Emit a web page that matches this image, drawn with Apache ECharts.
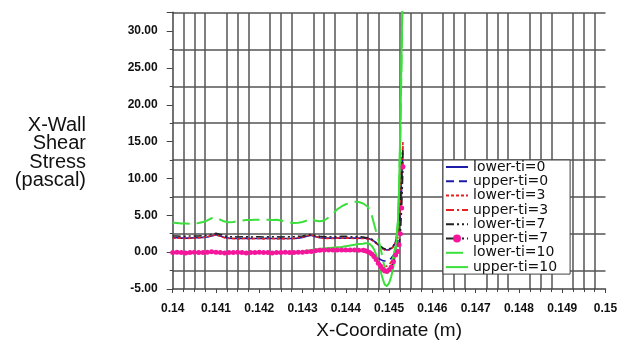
<!DOCTYPE html>
<html>
<head>
<meta charset="utf-8">
<script src="https://cdn.jsdelivr.net/npm/echarts@6/dist/echarts.min.js"></script>
<style>html,body{margin:0;padding:0;background:#fff}#c{width:632px;height:345px}</style>
</head>
<body>
<div id="c"></div>
<script>
// X-coordinate sample positions (m)
var xCoord = [
  0.1400,0.1401,0.1402,0.1403,0.1404,0.1405,0.1406,0.1407,0.1408,0.1409,
  0.1410,0.1411,0.1412,0.1413,0.1414,0.1415,0.1416,0.1417,0.1418,0.1419,
  0.1420,0.1421,0.1422,0.1423,0.1424,0.1425,0.1426,0.1427,0.1428,0.1429,
  0.1430,0.1431,0.1432,0.1433,0.1434,0.1435,0.1436,0.1437,0.1438,0.1439,
  0.1440,0.1441,0.1442,0.1443,0.1444,
  0.14445,0.1445,0.14455,0.1446,0.14465,0.1447,0.14475,0.1448,0.14485,0.1449,
  0.14495,0.1450,0.14505,0.1451,0.14515,0.1452,0.14523,0.14526,0.14529,0.14532
];
var seriesNames = ['lower-ti=0','upper-ti=0','lower-ti=3','upper-ti=3','lower-ti=7','upper-ti=7','lower-ti=10','upper-ti=10'];

var lowerTi0 = [
  1.95,1.95,1.9,1.9,1.9,1.95,1.95,2.0,2.05,2.2,
  2.35,2.2,2.0,1.9,1.85,1.85,1.85,1.9,1.85,1.85,
  1.85,1.85,1.9,1.85,1.85,1.85,1.85,1.85,1.85,1.9,
  2.0,2.15,2.3,2.1,1.95,1.9,1.9,1.9,1.9,1.9,
  1.9,1.9,1.9,1.9,1.9,
  1.9,1.85,1.8,1.7,1.5,1.25,1.0,0.75,0.5,0.35,
  0.3,0.35,0.5,0.8,1.4,2.5,4.0,6.5,10.0,13.5
];
var upperTi0 = [
  -0.05,-0.05,-0.05,-0.05,-0.05,-0.05,-0.05,-0.05,0.0,0.0,
  0.0,-0.05,-0.05,-0.05,-0.05,-0.05,-0.05,-0.05,-0.05,-0.05,
  -0.05,-0.05,-0.05,-0.05,-0.05,-0.05,-0.05,-0.05,-0.05,-0.05,
  0.0,0.1,0.2,0.2,0.25,0.25,0.25,0.25,0.25,0.2,
  0.2,0.2,0.15,0.15,0.15,
  0.15,0.1,0.0,-0.1,-0.3,-0.55,-0.8,-1.0,-1.15,-1.2,
  -1.2,-1.05,-0.8,-0.4,0.3,1.5,3.0,5.0,8.5,12.5
];
var lowerTi3 = [
  1.9,1.9,1.9,1.85,1.9,1.9,1.95,2.0,2.1,2.25,
  2.3,2.15,1.95,1.85,1.85,1.8,1.85,1.85,1.8,1.85,
  1.85,1.8,1.85,1.85,1.8,1.85,1.8,1.85,1.85,1.95,
  2.05,2.2,2.35,2.15,1.95,1.85,1.85,1.85,1.9,1.9,
  1.9,1.9,1.85,1.85,1.85,
  1.85,1.8,1.75,1.65,1.45,1.2,0.95,0.7,0.45,0.3,
  0.25,0.3,0.45,0.75,1.3,2.6,4.5,7.5,11.5,15.0
];
var upperTi3 = [
  -0.05,-0.05,-0.1,-0.05,-0.05,-0.05,-0.05,0.0,0.0,0.05,
  0.0,-0.05,-0.05,-0.1,-0.05,-0.05,-0.05,-0.05,-0.1,-0.05,
  -0.05,-0.05,-0.05,-0.05,-0.1,-0.05,-0.05,-0.05,-0.05,0.0,
  0.05,0.1,0.2,0.2,0.25,0.25,0.25,0.25,0.25,0.25,
  0.2,0.2,0.2,0.15,0.15,
  0.15,0.05,-0.1,-0.3,-0.6,-0.95,-1.3,-1.6,-1.85,-1.95,
  -1.9,-1.7,-1.3,-0.7,0.2,1.8,3.8,6.5,10.5,14.5
];
var lowerTi7 = [
  2.2,2.2,2.15,2.15,2.2,2.2,2.2,2.25,2.3,2.4,
  2.55,2.4,2.2,2.1,2.1,2.05,2.1,2.1,2.05,2.1,
  2.1,2.05,2.1,2.1,2.1,2.05,2.1,2.1,2.1,2.15,
  2.2,2.3,2.4,2.25,2.15,2.1,2.1,2.1,2.1,2.15,
  2.15,2.1,2.1,2.1,2.05,
  2.0,1.95,1.85,1.75,1.55,1.3,1.05,0.8,0.6,0.45,
  0.4,0.45,0.6,0.9,1.5,2.7,4.3,7.0,10.5,14.0
];
var upperTi7 = [
  -0.05,0.0,-0.05,-0.1,-0.05,0.0,-0.05,-0.05,0.0,0.05,
  0.0,-0.05,-0.1,-0.05,-0.05,0.0,-0.05,-0.1,-0.05,-0.05,
  0.0,-0.05,-0.05,-0.1,-0.05,-0.05,0.0,-0.05,-0.05,0.0,
  0.0,0.05,0.1,0.2,0.25,0.3,0.3,0.3,0.3,0.3,
  0.3,0.3,0.3,0.25,0.25,
  0.2,0.1,-0.05,-0.25,-0.6,-1.0,-1.5,-1.9,-2.3,-2.55,
  -2.6,-2.4,-2.0,-1.3,-0.4,0.1,1.0,2.5,6.0,11.6
];
var lowerTi10 = [
  4.0,3.95,3.9,3.9,3.85,3.9,3.95,4.1,4.3,4.6,
  4.7,4.4,4.15,4.05,4.1,4.2,4.3,4.35,4.35,4.4,
  4.4,4.4,4.4,4.35,4.4,4.3,4.2,4.05,3.95,4.0,
  4.1,4.3,4.6,4.25,4.2,4.3,4.7,5.2,5.8,6.2,
  6.5,6.7,6.85,6.8,6.6,
  6.4,6.2,5.8,5.0,3.9,2.8,1.8,0.6,-0.8,-2.2,
  -2.9,-2.6,-1.8,-0.6,1.0,4.0,8.5,16.0,27.0,38.0
];
var upperTi10 = [
  -0.05,-0.05,-0.1,-0.05,-0.05,-0.1,-0.05,-0.05,-0.05,0.0,
  0.0,-0.05,-0.05,-0.1,-0.05,-0.05,-0.05,-0.1,-0.05,-0.05,
  -0.05,-0.05,-0.05,-0.1,-0.05,-0.05,-0.05,-0.05,-0.05,0.0,
  0.05,0.15,0.3,0.4,0.45,0.5,0.55,0.6,0.65,0.7,
  0.8,0.9,1.0,1.1,1.15,
  1.2,1.2,1.1,0.85,0.4,-0.3,-1.3,-2.5,-3.6,-4.4,
  -4.6,-4.2,-3.3,-2.0,0.0,3.5,8.5,17.0,28.0,39.0
];
var seriesValues = [lowerTi0, upperTi0, lowerTi3, upperTi3, lowerTi7, upperTi7, lowerTi10, upperTi10];

var styles = [
  {color:'#1c1ca8', type:'solid', width:1.6},
  {color:'#1c1ca8', type:[8,5], width:1.6},
  {color:'#e82020', type:[3,2], width:1.6},
  {color:'#e82020', type:[8,3,2,3], width:1.6},
  {color:'#222222', type:[8,3,2,3,2,3], width:1.6},
  {color:'#222222', type:[8,3,2,3,2,3], width:1.6},
  {color:'#3ce03c', type:[17,7], width:2},
  {color:'#3ce03c', type:'solid', width:2}
];

function pairs(v){ var d=[]; for (var i=0;i<xCoord.length;i++) d.push([xCoord[i], v[i]]); return d; }

var series = seriesNames.map(function(n, k){
  var s = {
    name: n, type: 'line', data: pairs(seriesValues[k]),
    symbol: 'none', showSymbol: false,
    lineStyle: {color: styles[k].color, type: styles[k].type, width: styles[k].width},
    itemStyle: {color: styles[k].color},
    z: 2 + k, clip: true
  };
  if (n === 'upper-ti=7') {
    s.symbol = 'circle'; s.showSymbol = true; s.symbolSize = 5;
    s.itemStyle = {color: '#f5169c'};
    s.z = 20;
  }
  return s;
});

var legendData = seriesNames.map(function(n){
  if (n === 'upper-ti=7') return {name: n, itemStyle: {opacity: 1, color: '#f5169c'}};
  return {name: n, itemStyle: {opacity: 0}};
});

var chart = echarts.init(document.getElementById('c'), null, {renderer:'canvas'});
var gridColor = '#555';
chart.setOption({
  animation: false,
  backgroundColor: '#ffffff',
  grid: {left: 172.7, right: 26.5, top: 12.3, bottom: 55.5, containLabel: false},
  xAxis: {
    type: 'value', min: 0.14, max: 0.15, interval: 0.001,
    name: 'X-Coordinate (m)', nameLocation: 'middle', nameGap: 32,
    nameTextStyle: {fontFamily: 'Liberation Sans', fontSize: 19, color: '#111'},
    axisLine: {show: true, onZero: false, lineStyle: {color: '#444', width: 1.5}},
    axisTick: {show: true, length: 4, lineStyle: {color: '#444'}},
    minorTick: {show: true, splitNumber: 4, length: 3, lineStyle: {color: '#444'}},
    splitLine: {show: false},
    minorSplitLine: {show: true, lineStyle: {color: gridColor, width: 1.5}},
    axisLabel: {fontFamily: 'Liberation Sans', fontWeight: 'bold', fontSize: 12, color: '#111', margin: 14,
      formatter: function(v){ return String(+v.toFixed(3)); }}
  },
  yAxis: {
    type: 'value', min: -5, max: 32.55, interval: 5,
    axisLine: {show: true, onZero: false, lineStyle: {color: '#444', width: 1.5}},
    axisTick: {show: true, length: 6, lineStyle: {color: '#444'}},
    minorTick: {show: true, splitNumber: 2, length: 3, lineStyle: {color: '#444'}},
    splitLine: {show: false},
    minorSplitLine: {show: true, lineStyle: {color: gridColor, width: 1.5}},
    axisLabel: {fontFamily: 'Liberation Sans', fontWeight: 'bold', fontSize: 12, color: '#111', margin: 15,
      showMaxLabel: false,
      formatter: function(v){ return v.toFixed(2); }}
  },
  legend: {
    data: legendData, orient: 'vertical', left: 443, top: 160,
    backgroundColor: '#fff', borderColor: '#444', borderWidth: 1,
    padding: [0, 13, 0, 2], itemWidth: 22, itemHeight: 10, itemGap: 0.3,
    textStyle: {fontFamily: 'DejaVu Sans', fontSize: 14, lineHeight: 10, color: '#111'}
  },
  graphic: [{
    type: 'text',
    x: 86, y: 153,
    style: {text: 'X-Wall\nShear\nStress\n(pascal)', fontFamily: 'Liberation Sans', fontSize: 20, lineHeight: 18.5,
      fill: '#111', align: 'right', verticalAlign: 'middle'}
  }],
  series: series
});
</script>
</body>
</html>
